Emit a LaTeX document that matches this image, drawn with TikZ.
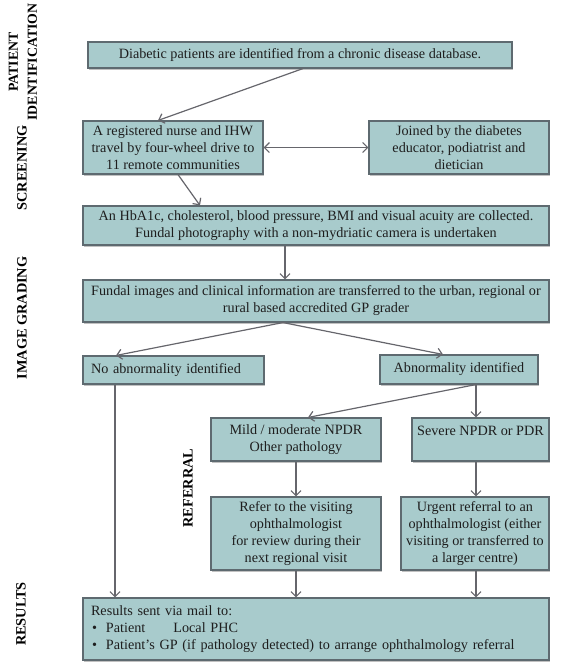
\documentclass[tikz,border=0pt]{standalone}
\usepackage{fontspec}
\setmainfont{Liberation Serif}
\usetikzlibrary{arrows.meta,shadows}
\definecolor{boxfill}{RGB}{168,203,204}
\definecolor{boxline}{RGB}{94,106,112}
\definecolor{arrowc}{RGB}{102,102,108}
\definecolor{txt}{RGB}{30,30,30}
\tikzset{
  stagebox/.style={draw=boxline, line width=1.1pt, fill=boxfill, inner sep=0pt,
    text=txt, align=center, font=\fontsize{14.2}{17}\selectfont,
    drop shadow={shadow xshift=1.2pt, shadow yshift=-2.2pt, opacity=0.35, fill=black!70}},
  flow/.style={draw=arrowc, line width=1.2pt, -{Straight Barb[length=5pt,width=10pt]}},
  flowboth/.style={draw=arrowc, line width=1.2pt, {Straight Barb[length=5pt,width=10pt]}-{Straight Barb[length=5pt,width=10pt]}},
  phase/.style={rotate=90, font=\fontsize{14.3}{19}\selectfont\bfseries, align=center, text=black, inner sep=0pt}
}
\begin{document}
\begin{tikzpicture}[x=1pt,y=-1pt]
\useasboundingbox (0,0) rectangle (565,670);

% phase labels
\node[phase, font=\fontsize{13.8}{19}\selectfont\bfseries] (lpid) at (23,62) {PATIENT\\IDENTIFICATION};
\node[phase] (lscr) at (22,168) {SCREENING};
\node[phase] (limg) at (22,318) {IMAGE GRADING};
\node[phase] (lref) at (188,488) {REFERRAL};
\node[phase] (lres) at (21,614) {RESULTS};

% boxes
\node[stagebox, minimum width=424pt, minimum height=26pt] (b1) at (300,55)
  {Diabetic patients are identified from a chronic disease database.};
\node[stagebox, minimum width=180pt, minimum height=53pt] (b2) at (173,147.5)
  {A registered nurse and IHW\\travel by four-wheel drive to\\11 remote communities};
\node[stagebox, minimum width=180pt, minimum height=53pt] (b3) at (459,147.5)
  {Joined by the diabetes\\educator, podiatrist and\\dietician};
\node[stagebox, minimum width=466pt, minimum height=39pt] (b4) at (316,225.5)
  {An HbA1c, cholesterol, blood pressure, BMI and visual acuity are collected.\\Fundal photography with a non-mydriatic camera is undertaken};
\node[stagebox, minimum width=466pt, minimum height=42pt] (b5) at (316,301)
  {Fundal images and clinical information are transferred to the urban, regional or\\rural based accredited GP grader};
\node[stagebox, minimum width=181pt, minimum height=28pt, text width=165pt, align=left] (b6) at (173.5,370)
  {No abnormality identified};
\node[stagebox, minimum width=158pt, minimum height=29pt] (b7) at (459,369.5)
  {Abnormality identified};
\node[stagebox, minimum width=170pt, minimum height=43pt] (b8) at (296,439.5)
  {Mild / moderate NPDR\\Other pathology};
\node[stagebox, minimum width=137pt, minimum height=43pt] (b9) at (480.5,439.5)
  {Severe NPDR or PDR\\\mbox{}};
\node[stagebox, minimum width=170pt, minimum height=73pt] (b10) at (296,533.5)
  {Refer to the visiting\\ophthalmologist\\for review during their\\next regional visit};
\node[stagebox, minimum width=148pt, minimum height=73pt] (b11) at (475,533.5)
  {Urgent referral to an\\ophthalmologist (either\\visiting or transferred to\\a larger centre)};
\node[stagebox, minimum width=466pt, minimum height=62pt, text width=450pt, align=left] (b12) at (316,629)
  {Results sent via mail to:\\
   \hspace*{1pt}\textbullet\hspace{9pt}Patient\hspace{28pt}Local PHC\\
   \hspace*{1pt}\textbullet\hspace{9pt}Patient’s GP (if pathology detected) to arrange ophthalmology referral};

% connector end points
\coordinate (s1) at ([xshift=3pt]b1.south);
\coordinate (e1) at ([xshift=-15pt]b2.north);
\coordinate (s2) at ([xshift=5pt]b2.south);
\coordinate (e2) at ([xshift=-116pt]b4.north);
\coordinate (s4) at ([xshift=-31pt]b4.south);
\coordinate (s5) at ([xshift=-33pt]b5.south);
\coordinate (e6) at ([xshift=-57.5pt]b6.north);
\coordinate (e7) at ([xshift=-16pt]b7.north);
\coordinate (s7) at ([xshift=17pt]b7.south);
\coordinate (e8) at ([xshift=12pt]b8.north);
\coordinate (s9) at ([xshift=-4.5pt]b9.south);
\coordinate (s11) at ([xshift=1pt]b11.south);
\coordinate (s6) at ([xshift=-58.5pt]b6.south);

% connectors
\draw[flow] (s1) -- (e1);
\draw[flowboth] (b2.east) -- (b3.west);
\draw[flow] (s2) -- (e2);
\draw[flow] (s4) -- (s4 |- b5.north);
\draw[flow] (s5) -- (e6);
\draw[flow] (s5) -- (e7);
\draw[flow] (s7) -- (e8);
\draw[flow] (s7) -- (s7 |- b9.north);
\draw[flow] (b8.south) -- (b8.south |- b10.north);
\draw[flow] (s9) -- (s9 |- b11.north);
\draw[flow] (b10.south) -- (b10.south |- b12.north);
\draw[flow] (s11) -- (s11 |- b12.north);
\draw[flow] (s6) -- (s6 |- b12.north);
\end{tikzpicture}
\end{document}
